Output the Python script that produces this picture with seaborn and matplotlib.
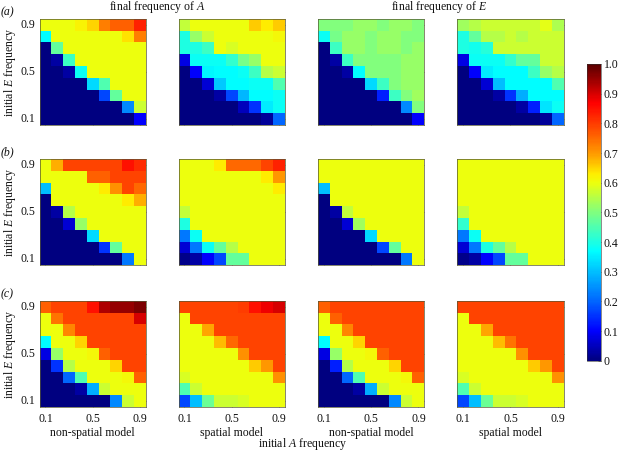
import sys
import numpy as np
import seaborn as sns
import matplotlib
matplotlib.use("Agg")
import matplotlib.pyplot as plt
from matplotlib.colors import LinearSegmentedColormap

Y = .6
a1 = [[Y,Y,Y,.62,.65,.73,.76,.76,.83],
      [.37,Y,Y,Y,Y,Y,Y,.64,.73],
      [0,.47,Y,Y,Y,Y,Y,Y,Y],
      [0,.03,.43,Y,Y,Y,Y,Y,Y],
      [0,0,.03,.38,Y,Y,Y,Y,Y],
      [0,0,0,0,.33,.45,Y,Y,Y],
      [0,0,0,0,0,.17,.47,Y,Y],
      [0,0,0,0,0,0,0,.24,.57],
      [0,0,0,0,0,0,0,0,.1]]
a2 = [[.56,Y,Y,Y,Y,Y,.66,.63,.66],
      [.4,.52,.57,Y,Y,Y,Y,Y,.61],
      [.4,.4,.43,Y,.58,Y,Y,Y,Y],
      [.08,.38,.38,.38,.42,.49,.52,Y,Y],
      [0,.1,.36,.37,.37,.38,.43,.55,.57],
      [0,0,.07,.31,.37,.37,.38,.38,.45],
      [0,0,0,.03,.17,.29,.37,.37,.38],
      [0,0,0,0,0,.05,.15,.35,.38],
      [0,0,0,0,0,0,0,.02,.2]]
a3 = [[.5,.5,.5,.52,.52,.5,.52,.52,.5],
      [.38,.49,.52,.52,.5,.52,.52,.5,.5],
      [0,.43,.52,.52,.5,.52,.52,.5,.52],
      [0,.03,.43,.5,.5,.5,.5,.52,.52],
      [0,0,.03,.37,.5,.5,.5,.52,.52],
      [0,0,0,0,.33,.43,.5,.52,.52],
      [0,0,0,0,0,.13,.43,.5,.53],
      [0,0,0,0,0,0,0,.24,.5],
      [0,0,0,0,0,0,0,0,.1]]
a4 = [[.53,.55,.57,.57,.57,.57,.57,.59,.54],
      [.4,.47,.55,.55,.57,.55,.57,.57,.57],
      [.4,.39,.41,.57,.57,.57,.57,.57,.57],
      [.08,.38,.38,.38,.42,.47,.47,.57,.57],
      [0,.1,.35,.37,.37,.37,.43,.52,.55],
      [0,0,.07,.3,.37,.37,.37,.37,.45],
      [0,0,0,.03,.15,.28,.37,.37,.37],
      [0,0,0,0,0,.03,.13,.34,.38],
      [0,0,0,0,0,0,0,.02,.2]]
b1 = [[Y,.68,.79,.79,.79,.79,.79,.85,.82],
      [Y,Y,Y,Y,.76,.76,.79,.79,.79],
      [.3,Y,Y,Y,Y,.63,.71,.79,.75],
      [0,Y,Y,Y,Y,Y,Y,.63,.68],
      [0,.03,.55,Y,Y,Y,Y,Y,Y],
      [0,0,.07,.52,Y,Y,Y,Y,Y],
      [0,0,0,0,.33,Y,Y,Y,Y],
      [0,0,0,0,0,.15,.47,Y,Y],
      [0,0,0,0,0,0,0,.22,Y]]
b2 = [[Y,Y,Y,.63,.75,.75,.75,.79,.83],
      [Y,Y,Y,Y,Y,Y,Y,.63,.7],
      [Y,Y,Y,Y,Y,Y,Y,Y,.63],
      [Y,Y,Y,Y,Y,Y,Y,Y,Y],
      [.56,Y,Y,Y,Y,Y,Y,Y,Y],
      [.4,Y,Y,Y,Y,Y,Y,Y,Y],
      [.22,.38,Y,Y,Y,Y,Y,Y,Y],
      [.07,.22,.38,.47,.55,Y,Y,Y,Y],
      [.01,.03,.1,.17,.47,.47,Y,Y,Y]]
b3 = [[Y,Y,Y,Y,Y,Y,Y,Y,Y],
      [Y,Y,Y,Y,Y,Y,Y,Y,Y],
      [.3,Y,Y,Y,Y,Y,Y,Y,Y],
      [0,Y,Y,Y,Y,Y,Y,Y,Y],
      [0,.03,.56,Y,Y,Y,Y,Y,Y],
      [0,0,.07,.53,Y,Y,Y,Y,Y],
      [0,0,0,0,.33,Y,Y,Y,Y],
      [0,0,0,0,0,.17,.47,Y,Y],
      [0,0,0,0,0,0,0,.22,Y]]
b4 = [[Y,Y,Y,Y,Y,Y,Y,Y,Y],
      [Y,Y,Y,Y,Y,Y,Y,Y,Y],
      [Y,Y,Y,Y,Y,Y,Y,Y,Y],
      [Y,Y,Y,Y,Y,Y,Y,Y,Y],
      [.56,Y,Y,Y,Y,Y,Y,Y,Y],
      [.42,Y,Y,Y,Y,Y,Y,Y,Y],
      [.22,.38,Y,Y,Y,Y,Y,Y,Y],
      [.07,.22,.4,.47,.55,Y,Y,Y,Y],
      [.01,.03,.1,.17,.47,.47,Y,Y,Y]]
O = .79
c1 = [[.76,O,O,O,.85,.93,.95,.95,.97],
      [Y,.74,O,O,O,O,O,O,.9],
      [Y,Y,.72,O,O,O,O,O,O],
      [.37,Y,Y,.65,O,O,O,O,O],
      [.08,.52,Y,Y,.61,.76,O,O,O],
      [0,.15,.55,Y,Y,Y,.65,O,O],
      [0,0,.2,.45,Y,Y,Y,.61,.76],
      [0,0,0,.03,.28,.57,Y,Y,Y],
      [0,0,0,0,0,0,.24,.57,Y]]
c2 = [[O,O,O,O,O,.8,.85,.88,.9],
      [Y,O,O,O,O,O,O,O,O],
      [Y,Y,.69,O,O,O,O,O,O],
      [Y,Y,Y,.67,.75,O,O,O,O],
      [Y,Y,Y,Y,Y,.71,O,O,O],
      [Y,Y,Y,Y,Y,Y,.66,.7,O],
      [.58,Y,Y,Y,Y,Y,Y,Y,.71],
      [.45,.57,Y,Y,Y,Y,Y,Y,Y],
      [.17,.3,.48,.57,.57,.58,Y,Y,Y]]
c3 = [[.76,O,O,O,O,O,O,O,O],
      [Y,.76,O,O,O,O,O,O,O],
      [Y,Y,.72,O,O,O,O,O,O],
      [.37,Y,Y,.65,O,O,O,O,O],
      [.08,.52,Y,Y,.61,.76,O,O,O],
      [0,.13,.55,Y,Y,Y,.65,O,O],
      [0,0,.2,.45,Y,Y,Y,.61,.76],
      [0,0,0,.03,.28,.57,Y,Y,Y],
      [0,0,0,0,0,0,.24,.57,Y]]
c4 = [[O,O,O,O,O,O,O,O,O],
      [Y,O,O,O,O,O,O,O,O],
      [Y,Y,.69,O,O,O,O,O,O],
      [Y,Y,Y,.67,.74,O,O,O,O],
      [Y,Y,Y,Y,Y,.71,O,O,O],
      [Y,Y,Y,Y,Y,Y,.66,.7,O],
      [.58,Y,Y,Y,Y,Y,Y,Y,.71],
      [.45,.57,Y,Y,Y,Y,Y,Y,Y],
      [.17,.3,.48,.57,.57,.58,Y,Y,Y]]
rows = [[a1, a2, a3, a4], [b1, b2, b3, b4], [c1, c2, c3, c4]]
row_tags = ["(a)", "(b)", "(c)"]
col_models = ["non-spatial model", "spatial model", "non-spatial model", "spatial model"]
freq_labels = ["0.1", "0.5", "0.9"]
cbar_ticks = [0, .1, .2, .3, .4, .5, .6, .7, .8, .9, 1.0]
cbar_labels = ["0", "0.1", "0.2", "0.3", "0.4", "0.5", "0.6", "0.7", "0.8", "0.9", "1.0"]

sns.set_theme(style="white")
plt.rcParams["font.family"] = ["Liberation Serif", "DejaVu Serif"]
plt.rcParams["mathtext.fontset"] = "custom"
plt.rcParams["mathtext.it"] = "Liberation Serif:italic"
plt.rcParams["mathtext.rm"] = "Liberation Serif"

cmap = LinearSegmentedColormap.from_list("skewed_jet", [
    (0, (0, 0, .5)), (.1, (0, 0, 1)), (.2, (0, .4, 1)), (.37, (0, 1, 1)),
    (.5, (.5, 1, .5)), (.6, (.93, 1, .05)), (.63, (1, .93, 0)), (.7, (1, .6, 0)),
    (.79, (1, .27, 0)), (.87, (1, 0, 0)), (1, (.35, 0, 0))])

W, H = 619, 451
fig = plt.figure(figsize=(W / 100, H / 100), dpi=100, facecolor="white")
xs = [39.5, 178.5, 318, 457.3]
ys = [18.7, 159, 300.7]
S = 106.3
FS = 8.5
EDGE = "#555533"

def box(x0, y0, w, h):
    return [x0 / W, 1 - (y0 + h) / H, w / W, h / H]

for r, row in enumerate(rows):
    for c, data in enumerate(row):
        ax = fig.add_axes(box(xs[c], ys[r], S, S))
        sns.heatmap(np.array(data), ax=ax, cmap=cmap, vmin=0, vmax=1, cbar=False,
                    square=False, linewidths=0)
        for s in ax.spines.values():
            s.set_visible(True); s.set_linewidth(.5); s.set_color(EDGE)
        ax.set_xticks([.5, 4.5, 8.5]); ax.set_yticks([.5, 4.5, 8.5])
        ax.tick_params(direction="in", length=1.5, width=.4, color="#333333",
                       top=True, right=True, bottom=True, left=True,
                       labelsize=FS, pad=3, labelcolor="#111111")
        ax.tick_params(axis="x", pad=4.5)
        ax.set_xticklabels(freq_labels if r == 2 else [], rotation=0)
        ax.set_yticklabels(freq_labels[::-1] if c == 0 else [], rotation=0)
        if c == 0:
            ax.set_ylabel("initial $\\mathit{E}$ frequency", fontsize=FS, labelpad=2, color="#111111")
            fig.text(1 / W, 1 - (ys[r] - 6.5) / H, row_tags[r], fontsize=FS, style="italic",
                     ha="left", va="center", color="#111111")
        if r == 2:
            ax.set_xlabel(col_models[c], fontsize=FS, labelpad=1.5, color="#111111")

fig.text(157 / W, 1 - 7 / H, "final frequency of $\\mathit{A}$", fontsize=FS, ha="center", va="center", color="#111111")
fig.text(439 / W, 1 - 7 / H, "final frequency of $\\mathit{E}$", fontsize=FS, ha="center", va="center", color="#111111")
fig.text(303 / W, 1 - 444 / H, "initial $\\mathit{A}$ frequency", fontsize=FS, ha="center", va="center", color="#111111")

cax = fig.add_axes(box(587.3, 64, 13.7, 296.7))
mesh = fig.axes[0].collections[0]
cb = fig.colorbar(mesh, cax=cax)
cb.set_ticks(cbar_ticks); cb.set_ticklabels(cbar_labels)
cb.outline.set_linewidth(.4); cb.outline.set_edgecolor("#333333")
cax.tick_params(direction="in", length=2, width=.4, color="#333333", labelsize=FS, pad=2, right=True, labelcolor="#111111")

fig.savefig("out.png", dpi=100)
